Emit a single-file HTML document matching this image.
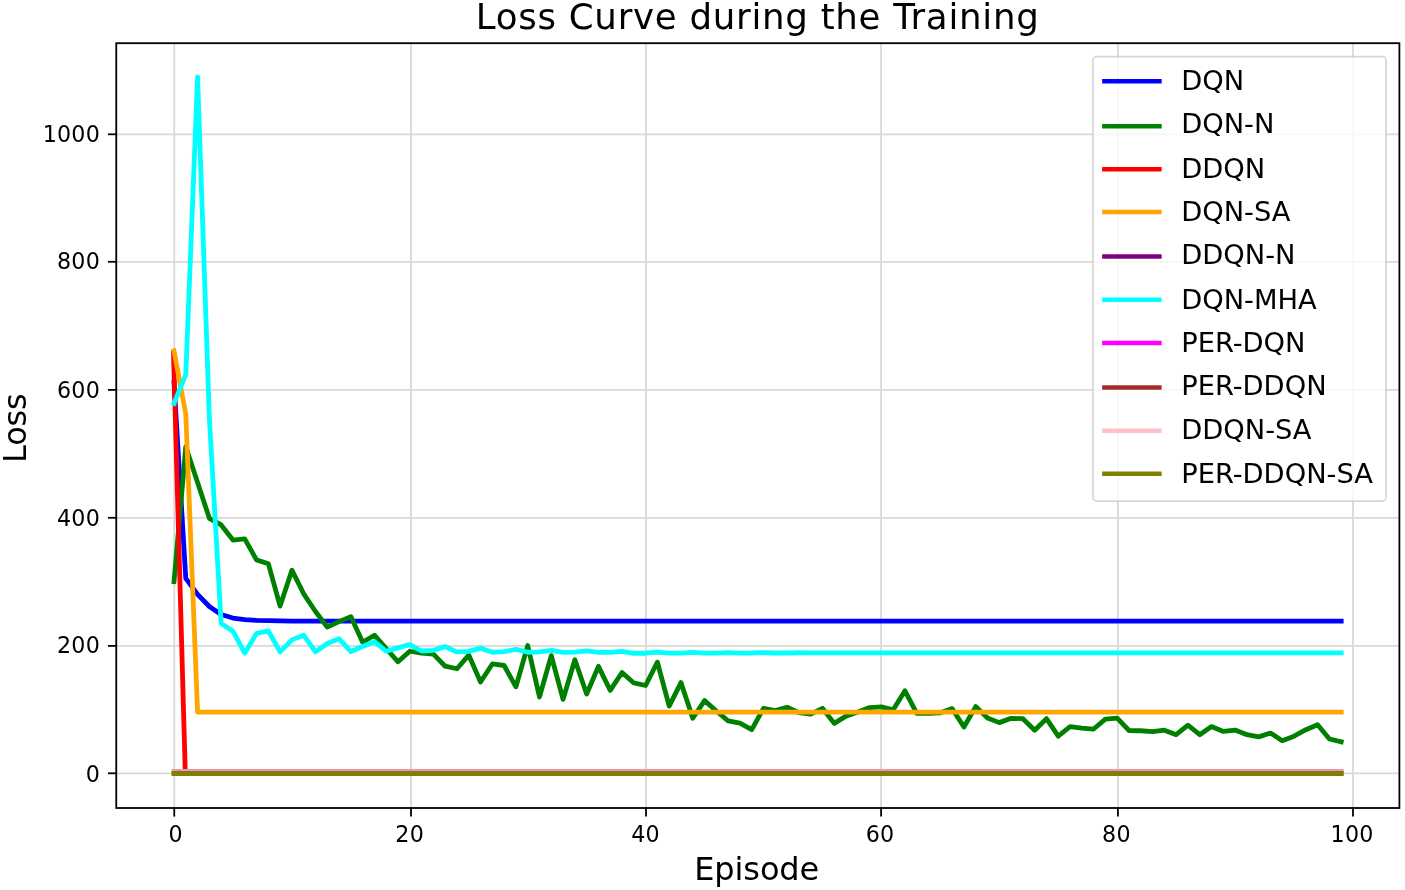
<!DOCTYPE html>
<html lang="en"><head><meta charset="utf-8"><title>Loss Curve during the Training</title>
<style>html,body{margin:0;padding:0;background:#fff}svg{display:block;filter:blur(0.45px)}</style></head>
<body>
<svg width="1405" height="890" viewBox="0 0 1405 890" font-family="'DejaVu Sans','Liberation Sans',sans-serif" fill="#000">
<rect width="1405" height="890" fill="#fff"/>
<clipPath id="ax"><rect x="116.25" y="43.2" width="1283.15" height="764.8"/></clipPath>
<g stroke="#d8d8d8" stroke-width="1.8" fill="none">
<line x1="174.25" y1="43.2" x2="174.25" y2="808.0"/>
<line x1="411.0" y1="43.2" x2="411.0" y2="808.0"/>
<line x1="646.0" y1="43.2" x2="646.0" y2="808.0"/>
<line x1="881.1" y1="43.2" x2="881.1" y2="808.0"/>
<line x1="1117.9" y1="43.2" x2="1117.9" y2="808.0"/>
<line x1="1353.0" y1="43.2" x2="1353.0" y2="808.0"/>
<line x1="116.25" y1="773.3" x2="1399.4" y2="773.3"/>
<line x1="116.25" y1="645.9" x2="1399.4" y2="645.9"/>
<line x1="116.25" y1="517.8" x2="1399.4" y2="517.8"/>
<line x1="116.25" y1="389.9" x2="1399.4" y2="389.9"/>
<line x1="116.25" y1="261.8" x2="1399.4" y2="261.8"/>
<line x1="116.25" y1="134.3" x2="1399.4" y2="134.3"/>
</g>
<g stroke="#000" stroke-width="1.8" fill="none">
<line x1="174.25" y1="808.0" x2="174.25" y2="816.6"/>
<line x1="411.0" y1="808.0" x2="411.0" y2="816.6"/>
<line x1="646.0" y1="808.0" x2="646.0" y2="816.6"/>
<line x1="881.1" y1="808.0" x2="881.1" y2="816.6"/>
<line x1="1117.9" y1="808.0" x2="1117.9" y2="816.6"/>
<line x1="1353.0" y1="808.0" x2="1353.0" y2="816.6"/>
<line x1="116.25" y1="773.3" x2="107.95" y2="773.3"/>
<line x1="116.25" y1="645.9" x2="107.95" y2="645.9"/>
<line x1="116.25" y1="517.8" x2="107.95" y2="517.8"/>
<line x1="116.25" y1="389.9" x2="107.95" y2="389.9"/>
<line x1="116.25" y1="261.8" x2="107.95" y2="261.8"/>
<line x1="116.25" y1="134.3" x2="107.95" y2="134.3"/>
</g>
<g clip-path="url(#ax)" fill="none" stroke-linejoin="round" stroke-linecap="square">
<polyline stroke="#0000ff" stroke-width="4.8" points="174.00,382.55 185.79,578.40 197.58,594.38 209.37,606.52 221.16,614.51 232.95,618.02 244.74,619.62 256.53,620.39 268.32,620.71 280.11,620.83 291.90,621.09 303.69,621.09 315.48,621.09 327.27,621.09 339.06,621.09 350.85,621.09 362.64,621.09 374.43,621.09 386.22,621.09 398.01,621.09 409.80,621.09 421.59,621.09 433.38,621.09 445.17,621.09 456.96,621.09 468.75,621.09 480.54,621.09 492.33,621.09 504.12,621.09 515.91,621.09 527.70,621.09 539.49,621.09 551.28,621.09 563.07,621.09 574.86,621.09 586.65,621.09 598.44,621.09 610.23,621.09 622.02,621.09 633.81,621.09 645.60,621.09 657.39,621.09 669.18,621.09 680.97,621.09 692.76,621.09 704.55,621.09 716.34,621.09 728.13,621.09 739.92,621.09 751.71,621.09 763.50,621.09 775.29,621.09 787.08,621.09 798.87,621.09 810.66,621.09 822.45,621.09 834.24,621.09 846.03,621.09 857.82,621.09 869.61,621.09 881.40,621.09 893.19,621.09 904.98,621.09 916.77,621.09 928.56,621.09 940.35,621.09 952.14,621.09 963.93,621.09 975.72,621.09 987.51,621.09 999.30,621.09 1011.09,621.09 1022.88,621.09 1034.67,621.09 1046.46,621.09 1058.25,621.09 1070.04,621.09 1081.83,621.09 1093.62,621.09 1105.41,621.09 1117.20,621.09 1128.99,621.09 1140.78,621.09 1152.57,621.09 1164.36,621.09 1176.15,621.09 1187.94,621.09 1199.73,621.09 1211.52,621.09 1223.31,621.09 1235.10,621.09 1246.89,621.09 1258.68,621.09 1270.47,621.09 1282.26,621.09 1294.05,621.09 1305.84,621.09 1317.63,621.09 1329.42,621.09 1341.21,621.09"/>
<polyline stroke="#008000" stroke-width="4.8" points="174.00,581.60 185.79,446.77 197.58,482.55 209.37,518.34 221.16,524.92 232.95,540.06 244.74,538.91 256.53,559.87 268.32,563.71 280.11,606.07 291.90,570.16 303.69,593.80 315.48,611.51 327.27,627.16 339.06,621.60 350.85,616.62 362.64,642.30 374.43,635.21 386.22,648.50 398.01,661.79 409.80,651.25 421.59,653.17 433.38,654.13 445.17,666.20 456.96,668.76 468.75,655.08 480.54,681.99 492.33,663.97 504.12,665.50 515.91,686.84 527.70,645.56 539.49,696.94 551.28,655.66 563.07,699.37 574.86,659.81 586.65,694.00 598.44,666.33 610.23,690.42 622.02,672.47 633.81,682.95 645.60,685.50 657.39,662.18 669.18,706.14 680.97,682.56 692.76,718.28 704.55,700.58 716.34,711.00 728.13,720.84 739.92,723.20 751.71,729.66 763.50,708.31 775.29,710.68 787.08,707.29 798.87,712.59 810.66,714.19 822.45,708.31 834.24,723.39 846.03,716.17 857.82,711.96 869.61,707.61 881.40,706.91 893.19,709.78 904.98,690.81 916.77,713.30 928.56,713.30 940.35,712.79 952.14,708.63 963.93,726.97 975.72,706.59 987.51,717.96 999.30,722.63 1011.09,718.35 1022.88,718.67 1034.67,730.17 1046.46,718.67 1058.25,736.17 1070.04,726.65 1081.83,728.06 1093.62,729.02 1105.41,719.11 1117.20,718.09 1128.99,730.49 1140.78,730.74 1152.57,731.57 1164.36,730.17 1176.15,734.64 1187.94,725.18 1199.73,734.70 1211.52,726.59 1223.31,731.45 1235.10,730.04 1246.89,734.70 1258.68,736.88 1270.47,733.04 1282.26,740.71 1294.05,736.17 1305.84,729.72 1317.63,724.74 1329.42,738.99 1341.21,741.86"/>
<polyline stroke="#ff0000" stroke-width="4.8" points="173.50,352.84 185.29,773.30 197.08,773.30 208.87,773.30 220.66,773.30 232.45,773.30 244.24,773.30 256.03,773.30 267.82,773.30 279.61,773.30 291.40,773.30 303.19,773.30 314.98,773.30 326.77,773.30 338.56,773.30 350.35,773.30 362.14,773.30 373.93,773.30 385.72,773.30 397.51,773.30 409.30,773.30 421.09,773.30 432.88,773.30 444.67,773.30 456.46,773.30 468.25,773.30 480.04,773.30 491.83,773.30 503.62,773.30 515.41,773.30 527.20,773.30 538.99,773.30 550.78,773.30 562.57,773.30 574.36,773.30 586.15,773.30 597.94,773.30 609.73,773.30 621.52,773.30 633.31,773.30 645.10,773.30 656.89,773.30 668.68,773.30 680.47,773.30 692.26,773.30 704.05,773.30 715.84,773.30 727.63,773.30 739.42,773.30 751.21,773.30 763.00,773.30 774.79,773.30 786.58,773.30 798.37,773.30 810.16,773.30 821.95,773.30 833.74,773.30 845.53,773.30 857.32,773.30 869.11,773.30 880.90,773.30 892.69,773.30 904.48,773.30 916.27,773.30 928.06,773.30 939.85,773.30 951.64,773.30 963.43,773.30 975.22,773.30 987.01,773.30 998.80,773.30 1010.59,773.30 1022.38,773.30 1034.17,773.30 1045.96,773.30 1057.75,773.30 1069.54,773.30 1081.33,773.30 1093.12,773.30 1104.91,773.30 1116.70,773.30 1128.49,773.30 1140.28,773.30 1152.07,773.30 1163.86,773.30 1175.65,773.30 1187.44,773.30 1199.23,773.30 1211.02,773.30 1222.81,773.30 1234.60,773.30 1246.39,773.30 1258.18,773.30 1269.97,773.30 1281.76,773.30 1293.55,773.30 1305.34,773.30 1317.13,773.30 1328.92,773.30 1340.71,773.30"/>
<polyline stroke="#ffa500" stroke-width="4.8" points="174.00,350.92 185.79,414.18 197.58,712.08 209.37,712.15 221.16,712.15 232.95,712.15 244.74,712.15 256.53,712.15 268.32,712.15 280.11,712.15 291.90,712.15 303.69,712.15 315.48,712.15 327.27,712.15 339.06,712.15 350.85,712.15 362.64,712.15 374.43,712.15 386.22,712.15 398.01,712.15 409.80,712.15 421.59,712.15 433.38,712.15 445.17,712.15 456.96,712.15 468.75,712.15 480.54,712.15 492.33,712.15 504.12,712.15 515.91,712.15 527.70,712.15 539.49,712.15 551.28,712.15 563.07,712.15 574.86,712.15 586.65,712.15 598.44,712.15 610.23,712.15 622.02,712.15 633.81,712.15 645.60,712.15 657.39,712.15 669.18,712.15 680.97,712.15 692.76,712.15 704.55,712.15 716.34,712.15 728.13,712.15 739.92,712.15 751.71,712.15 763.50,712.15 775.29,712.15 787.08,712.15 798.87,712.15 810.66,712.15 822.45,712.15 834.24,712.15 846.03,712.15 857.82,712.15 869.61,712.15 881.40,712.15 893.19,712.15 904.98,712.15 916.77,712.15 928.56,712.15 940.35,712.15 952.14,712.15 963.93,712.15 975.72,712.15 987.51,712.15 999.30,712.15 1011.09,712.15 1022.88,712.15 1034.67,712.15 1046.46,712.15 1058.25,712.15 1070.04,712.15 1081.83,712.15 1093.62,712.15 1105.41,712.15 1117.20,712.15 1128.99,712.15 1140.78,712.15 1152.57,712.15 1164.36,712.15 1176.15,712.15 1187.94,712.15 1199.73,712.15 1211.52,712.15 1223.31,712.15 1235.10,712.15 1246.89,712.15 1258.68,712.15 1270.47,712.15 1282.26,712.15 1294.05,712.15 1305.84,712.15 1317.63,712.15 1329.42,712.15 1341.21,712.15"/>
<polyline stroke="#800080" stroke-width="3.6" points="174.00,773.30 185.79,773.30 197.58,773.30 209.37,773.30 221.16,773.30 232.95,773.30 244.74,773.30 256.53,773.30 268.32,773.30 280.11,773.30 291.90,773.30 303.69,773.30 315.48,773.30 327.27,773.30 339.06,773.30 350.85,773.30 362.64,773.30 374.43,773.30 386.22,773.30 398.01,773.30 409.80,773.30 421.59,773.30 433.38,773.30 445.17,773.30 456.96,773.30 468.75,773.30 480.54,773.30 492.33,773.30 504.12,773.30 515.91,773.30 527.70,773.30 539.49,773.30 551.28,773.30 563.07,773.30 574.86,773.30 586.65,773.30 598.44,773.30 610.23,773.30 622.02,773.30 633.81,773.30 645.60,773.30 657.39,773.30 669.18,773.30 680.97,773.30 692.76,773.30 704.55,773.30 716.34,773.30 728.13,773.30 739.92,773.30 751.71,773.30 763.50,773.30 775.29,773.30 787.08,773.30 798.87,773.30 810.66,773.30 822.45,773.30 834.24,773.30 846.03,773.30 857.82,773.30 869.61,773.30 881.40,773.30 893.19,773.30 904.98,773.30 916.77,773.30 928.56,773.30 940.35,773.30 952.14,773.30 963.93,773.30 975.72,773.30 987.51,773.30 999.30,773.30 1011.09,773.30 1022.88,773.30 1034.67,773.30 1046.46,773.30 1058.25,773.30 1070.04,773.30 1081.83,773.30 1093.62,773.30 1105.41,773.30 1117.20,773.30 1128.99,773.30 1140.78,773.30 1152.57,773.30 1164.36,773.30 1176.15,773.30 1187.94,773.30 1199.73,773.30 1211.52,773.30 1223.31,773.30 1235.10,773.30 1246.89,773.30 1258.68,773.30 1270.47,773.30 1282.26,773.30 1294.05,773.30 1305.84,773.30 1317.63,773.30 1329.42,773.30 1341.21,773.30"/>
<polyline stroke="#00ffff" stroke-width="4.8" points="174.00,403.32 185.79,374.56 197.58,76.79 209.37,418.02 221.16,623.39 232.95,631.12 244.74,653.17 256.53,633.36 268.32,630.80 280.11,651.89 291.90,639.88 303.69,635.28 315.48,651.89 327.27,643.58 339.06,638.73 350.85,651.57 362.64,646.46 374.43,641.67 386.22,651.25 398.01,647.86 409.80,644.54 421.59,651.00 433.38,650.29 445.17,646.59 456.96,651.95 468.75,651.38 480.54,648.12 492.33,652.27 504.12,651.70 515.91,649.40 527.70,652.27 539.49,651.95 551.28,650.29 563.07,652.40 574.86,652.15 586.65,650.87 598.44,652.40 610.23,652.27 622.02,651.44 633.81,653.27 645.60,653.23 657.39,652.21 669.18,653.16 680.97,653.13 692.76,652.43 704.55,653.08 716.34,653.06 728.13,652.58 739.92,653.03 751.71,653.02 763.50,652.68 775.29,652.99 787.08,652.98 798.87,652.76 810.66,652.97 822.45,652.96 834.24,652.80 846.03,652.95 857.82,652.95 869.61,652.84 881.40,652.94 893.19,652.94 904.98,652.86 916.77,652.93 928.56,652.93 940.35,652.88 952.14,652.92 963.93,652.92 975.72,652.89 987.51,652.92 999.30,652.92 1011.09,652.90 1022.88,652.92 1034.67,652.92 1046.46,652.90 1058.25,652.92 1070.04,652.92 1081.83,652.90 1093.62,652.92 1105.41,652.91 1117.20,652.91 1128.99,652.91 1140.78,652.91 1152.57,652.91 1164.36,652.91 1176.15,652.91 1187.94,652.91 1199.73,652.91 1211.52,652.91 1223.31,652.91 1235.10,652.91 1246.89,652.91 1258.68,652.91 1270.47,652.91 1282.26,652.91 1294.05,652.91 1305.84,652.91 1317.63,652.91 1329.42,652.91 1341.21,652.91"/>
<polyline stroke="#ff00ff" stroke-width="3.6" points="174.00,773.30 185.79,773.30 197.58,773.30 209.37,773.30 221.16,773.30 232.95,773.30 244.74,773.30 256.53,773.30 268.32,773.30 280.11,773.30 291.90,773.30 303.69,773.30 315.48,773.30 327.27,773.30 339.06,773.30 350.85,773.30 362.64,773.30 374.43,773.30 386.22,773.30 398.01,773.30 409.80,773.30 421.59,773.30 433.38,773.30 445.17,773.30 456.96,773.30 468.75,773.30 480.54,773.30 492.33,773.30 504.12,773.30 515.91,773.30 527.70,773.30 539.49,773.30 551.28,773.30 563.07,773.30 574.86,773.30 586.65,773.30 598.44,773.30 610.23,773.30 622.02,773.30 633.81,773.30 645.60,773.30 657.39,773.30 669.18,773.30 680.97,773.30 692.76,773.30 704.55,773.30 716.34,773.30 728.13,773.30 739.92,773.30 751.71,773.30 763.50,773.30 775.29,773.30 787.08,773.30 798.87,773.30 810.66,773.30 822.45,773.30 834.24,773.30 846.03,773.30 857.82,773.30 869.61,773.30 881.40,773.30 893.19,773.30 904.98,773.30 916.77,773.30 928.56,773.30 940.35,773.30 952.14,773.30 963.93,773.30 975.72,773.30 987.51,773.30 999.30,773.30 1011.09,773.30 1022.88,773.30 1034.67,773.30 1046.46,773.30 1058.25,773.30 1070.04,773.30 1081.83,773.30 1093.62,773.30 1105.41,773.30 1117.20,773.30 1128.99,773.30 1140.78,773.30 1152.57,773.30 1164.36,773.30 1176.15,773.30 1187.94,773.30 1199.73,773.30 1211.52,773.30 1223.31,773.30 1235.10,773.30 1246.89,773.30 1258.68,773.30 1270.47,773.30 1282.26,773.30 1294.05,773.30 1305.84,773.30 1317.63,773.30 1329.42,773.30 1341.21,773.30"/>
<polyline stroke="#a52a2a" stroke-width="3.6" points="174.00,773.30 185.79,773.30 197.58,773.30 209.37,773.30 221.16,773.30 232.95,773.30 244.74,773.30 256.53,773.30 268.32,773.30 280.11,773.30 291.90,773.30 303.69,773.30 315.48,773.30 327.27,773.30 339.06,773.30 350.85,773.30 362.64,773.30 374.43,773.30 386.22,773.30 398.01,773.30 409.80,773.30 421.59,773.30 433.38,773.30 445.17,773.30 456.96,773.30 468.75,773.30 480.54,773.30 492.33,773.30 504.12,773.30 515.91,773.30 527.70,773.30 539.49,773.30 551.28,773.30 563.07,773.30 574.86,773.30 586.65,773.30 598.44,773.30 610.23,773.30 622.02,773.30 633.81,773.30 645.60,773.30 657.39,773.30 669.18,773.30 680.97,773.30 692.76,773.30 704.55,773.30 716.34,773.30 728.13,773.30 739.92,773.30 751.71,773.30 763.50,773.30 775.29,773.30 787.08,773.30 798.87,773.30 810.66,773.30 822.45,773.30 834.24,773.30 846.03,773.30 857.82,773.30 869.61,773.30 881.40,773.30 893.19,773.30 904.98,773.30 916.77,773.30 928.56,773.30 940.35,773.30 952.14,773.30 963.93,773.30 975.72,773.30 987.51,773.30 999.30,773.30 1011.09,773.30 1022.88,773.30 1034.67,773.30 1046.46,773.30 1058.25,773.30 1070.04,773.30 1081.83,773.30 1093.62,773.30 1105.41,773.30 1117.20,773.30 1128.99,773.30 1140.78,773.30 1152.57,773.30 1164.36,773.30 1176.15,773.30 1187.94,773.30 1199.73,773.30 1211.52,773.30 1223.31,773.30 1235.10,773.30 1246.89,773.30 1258.68,773.30 1270.47,773.30 1282.26,773.30 1294.05,773.30 1305.84,773.30 1317.63,773.30 1329.42,773.30 1341.21,773.30"/>
<polyline stroke="#e996be" stroke-width="4.8" points="174.00,771.32 185.79,771.32 197.58,771.32 209.37,771.32 221.16,771.32 232.95,771.32 244.74,771.32 256.53,771.32 268.32,771.32 280.11,771.32 291.90,771.32 303.69,771.32 315.48,771.32 327.27,771.32 339.06,771.32 350.85,771.32 362.64,771.32 374.43,771.32 386.22,771.32 398.01,771.32 409.80,771.32 421.59,771.32 433.38,771.32 445.17,771.32 456.96,771.32 468.75,771.32 480.54,771.32 492.33,771.32 504.12,771.32 515.91,771.32 527.70,771.32 539.49,771.32 551.28,771.32 563.07,771.32 574.86,771.32 586.65,771.32 598.44,771.32 610.23,771.32 622.02,771.32 633.81,771.32 645.60,771.32 657.39,771.32 669.18,771.32 680.97,771.32 692.76,771.32 704.55,771.32 716.34,771.32 728.13,771.32 739.92,771.32 751.71,771.32 763.50,771.32 775.29,771.32 787.08,771.32 798.87,771.32 810.66,771.32 822.45,771.32 834.24,771.32 846.03,771.32 857.82,771.32 869.61,771.32 881.40,771.32 893.19,771.32 904.98,771.32 916.77,771.32 928.56,771.32 940.35,771.32 952.14,771.32 963.93,771.32 975.72,771.32 987.51,771.32 999.30,771.32 1011.09,771.32 1022.88,771.32 1034.67,771.32 1046.46,771.32 1058.25,771.32 1070.04,771.32 1081.83,771.32 1093.62,771.32 1105.41,771.32 1117.20,771.32 1128.99,771.32 1140.78,771.32 1152.57,771.32 1164.36,771.32 1176.15,771.32 1187.94,771.32 1199.73,771.32 1211.52,771.32 1223.31,771.32 1235.10,771.32 1246.89,771.32 1258.68,771.32 1270.47,771.32 1282.26,771.32 1294.05,771.32 1305.84,771.32 1317.63,771.32 1329.42,771.32 1341.21,771.32"/>
<polyline stroke="#808000" stroke-width="5.0" points="174.00,773.43 185.79,773.43 197.58,773.43 209.37,773.43 221.16,773.43 232.95,773.43 244.74,773.43 256.53,773.43 268.32,773.43 280.11,773.43 291.90,773.43 303.69,773.43 315.48,773.43 327.27,773.43 339.06,773.43 350.85,773.43 362.64,773.43 374.43,773.43 386.22,773.43 398.01,773.43 409.80,773.43 421.59,773.43 433.38,773.43 445.17,773.43 456.96,773.43 468.75,773.43 480.54,773.43 492.33,773.43 504.12,773.43 515.91,773.43 527.70,773.43 539.49,773.43 551.28,773.43 563.07,773.43 574.86,773.43 586.65,773.43 598.44,773.43 610.23,773.43 622.02,773.43 633.81,773.43 645.60,773.43 657.39,773.43 669.18,773.43 680.97,773.43 692.76,773.43 704.55,773.43 716.34,773.43 728.13,773.43 739.92,773.43 751.71,773.43 763.50,773.43 775.29,773.43 787.08,773.43 798.87,773.43 810.66,773.43 822.45,773.43 834.24,773.43 846.03,773.43 857.82,773.43 869.61,773.43 881.40,773.43 893.19,773.43 904.98,773.43 916.77,773.43 928.56,773.43 940.35,773.43 952.14,773.43 963.93,773.43 975.72,773.43 987.51,773.43 999.30,773.43 1011.09,773.43 1022.88,773.43 1034.67,773.43 1046.46,773.43 1058.25,773.43 1070.04,773.43 1081.83,773.43 1093.62,773.43 1105.41,773.43 1117.20,773.43 1128.99,773.43 1140.78,773.43 1152.57,773.43 1164.36,773.43 1176.15,773.43 1187.94,773.43 1199.73,773.43 1211.52,773.43 1223.31,773.43 1235.10,773.43 1246.89,773.43 1258.68,773.43 1270.47,773.43 1282.26,773.43 1294.05,773.43 1305.84,773.43 1317.63,773.43 1329.42,773.43 1341.21,773.43"/>
</g>
<rect x="116.25" y="43.2" width="1283.15" height="764.8" fill="none" stroke="#000" stroke-width="1.8"/>
<g font-size="22.2" letter-spacing="0.25">
<text x="175.75" y="842.2" text-anchor="middle">0</text>
<text x="409.7" y="842.2" text-anchor="middle">20</text>
<text x="645.5" y="842.2" text-anchor="middle">40</text>
<text x="880.1" y="842.2" text-anchor="middle">60</text>
<text x="1116.4" y="842.2" text-anchor="middle">80</text>
<text x="1352.1" y="842.2" text-anchor="middle">100</text>
<text x="100.1" y="782.4" text-anchor="end">0</text>
<text x="100.1" y="653.2" text-anchor="end">200</text>
<text x="100.1" y="525.6" text-anchor="end">400</text>
<text x="100.1" y="398.05" text-anchor="end">600</text>
<text x="100.1" y="269.1" text-anchor="end">800</text>
<text x="100.1" y="141.6" text-anchor="end">1000</text>
</g>
<text x="475.8" y="29.0" font-size="35.6" letter-spacing="0.73">Loss Curve during the Training</text>
<text x="694.2" y="880.0" font-size="32.0" letter-spacing="-0.1">Episode</text>
<text transform="translate(26.2,428.2) rotate(-90)" font-size="32.0" letter-spacing="-0.2" text-anchor="middle">Loss</text>
<rect x="1092.9" y="56.7" width="293.1999999999998" height="444.40000000000003" rx="3.8" ry="3.8" fill="#fff" fill-opacity="0.8" stroke="#ccc" stroke-opacity="0.8" stroke-width="1.7"/>
<g font-size="27.3">
<line x1="1104.4" y1="81.3"  x2="1159.4" y2="81.3" stroke="#0000ff" stroke-width="4.5" stroke-linecap="square"/>
<text x="1181.2" y="90.3">DQN</text>
<line x1="1104.4" y1="126.3"  x2="1159.4" y2="126.3" stroke="#008000" stroke-width="4.5" stroke-linecap="square"/>
<text x="1181.2" y="133.3">DQN-N</text>
<line x1="1104.4" y1="169.3"  x2="1159.4" y2="169.3" stroke="#ff0000" stroke-width="4.5" stroke-linecap="square"/>
<text x="1181.2" y="178.0">DDQN</text>
<line x1="1104.4" y1="212.0"  x2="1159.4" y2="212.0" stroke="#ffa500" stroke-width="4.5" stroke-linecap="square"/>
<text x="1181.2" y="221.0">DQN-SA</text>
<line x1="1104.4" y1="256.6"  x2="1159.4" y2="256.6" stroke="#800080" stroke-width="4.5" stroke-linecap="square"/>
<text x="1181.2" y="264.1">DDQN-N</text>
<line x1="1104.4" y1="299.8"  x2="1159.4" y2="299.8" stroke="#00ffff" stroke-width="4.5" stroke-linecap="square"/>
<text x="1181.2" y="308.5">DQN-MHA</text>
<line x1="1104.4" y1="342.9"  x2="1159.4" y2="342.9" stroke="#ff00ff" stroke-width="4.5" stroke-linecap="square"/>
<text x="1181.2" y="351.8">PER-DQN</text>
<line x1="1104.4" y1="387.6"  x2="1159.4" y2="387.6" stroke="#a52a2a" stroke-width="4.5" stroke-linecap="square"/>
<text x="1181.2" y="394.8">PER-DDQN</text>
<line x1="1104.4" y1="430.8"  x2="1159.4" y2="430.8" stroke="#ffc0cb" stroke-width="4.5" stroke-linecap="square"/>
<text x="1181.2" y="439.3">DDQN-SA</text>
<line x1="1104.4" y1="473.7"  x2="1159.4" y2="473.7" stroke="#808000" stroke-width="4.5" stroke-linecap="square"/>
<text x="1181.2" y="482.5">PER-DDQN-SA</text>
</g>
</svg>
</body></html>
